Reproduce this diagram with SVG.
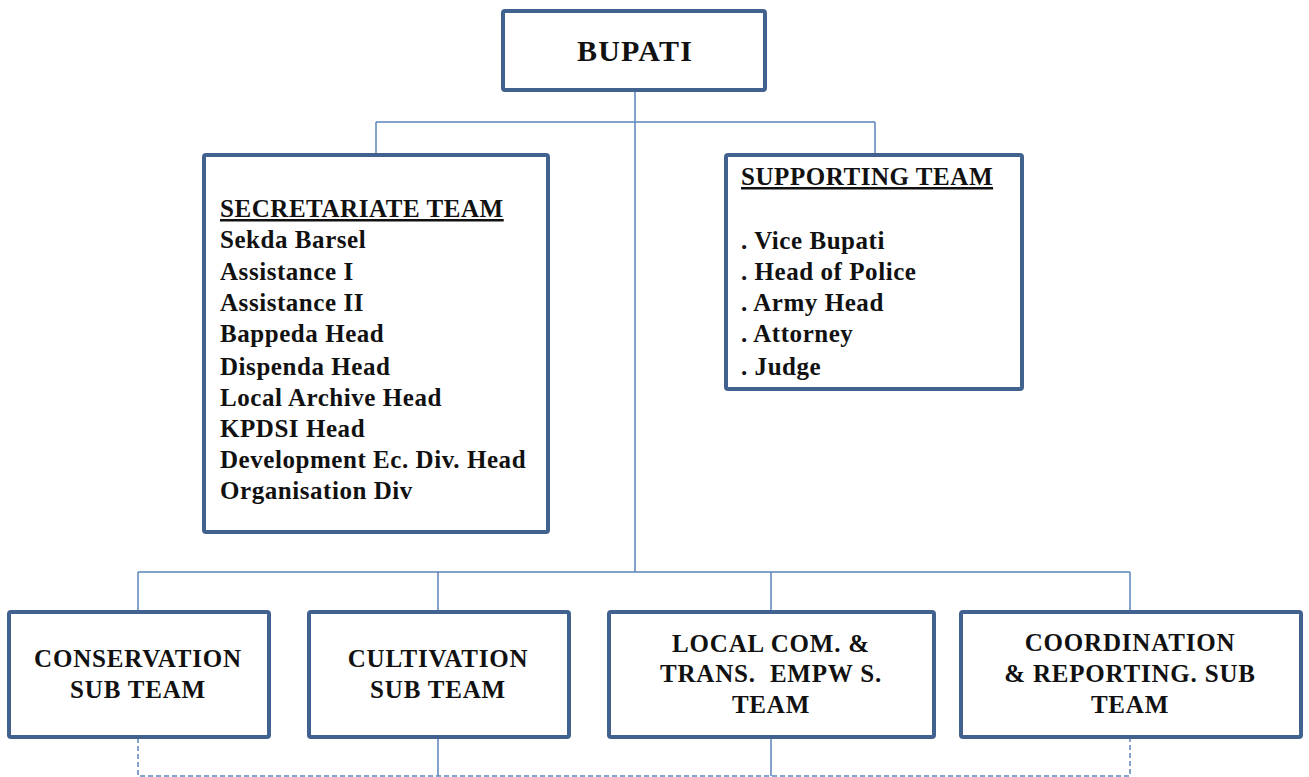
<svg xmlns="http://www.w3.org/2000/svg" width="1309" height="777" viewBox="0 0 1309 777">
<style>
.box{fill:#fff;stroke:#41618f;stroke-width:4}
.ln{fill:none;stroke:#5b85bd;stroke-width:1.5}
.dash{fill:none;stroke:#5b85bd;stroke-width:1.5;stroke-dasharray:5 3}
text{font-family:"Liberation Serif","Times New Roman",serif;font-weight:bold;fill:#111}
.t{font-size:25px;letter-spacing:0.55px}
.b{font-size:25px;letter-spacing:0.8px;text-anchor:middle}
.u{text-decoration:underline}
</style>
<rect width="1309" height="777" fill="#fff"/>
<g id="connectors">
<path class="ln" d="M635 91V572M376 122H875M376 122V153M875 122V153M138 572H1130M138 572V611M438 572V611M771 572V611M1130 572V611"/>
<path class="ln" d="M438 738V776M771 738V776"/>
<path class="dash" d="M138 738V776H1130V738"/>
</g>
<g id="bupati">
<rect class="box" x="503" y="11" width="262" height="79" rx="2"/>
<text x="635" y="61" style="font-size:30px;letter-spacing:1.2px;text-anchor:middle">BUPATI</text>
</g>
<g id="secretariate">
<rect class="box" x="204" y="155" width="344" height="377" rx="2"/>
<text class="t u" x="220" y="217">SECRETARIATE TEAM</text>
<text class="t" x="220" y="248">Sekda Barsel</text>
<text class="t" x="220" y="280">Assistance I</text>
<text class="t" x="220" y="311">Assistance II</text>
<text class="t" x="220" y="342">Bappeda Head</text>
<text class="t" x="220" y="375">Dispenda Head</text>
<text class="t" x="220" y="406">Local Archive Head</text>
<text class="t" x="220" y="437">KPDSI Head</text>
<text class="t" x="220" y="468">Development Ec. Div. Head</text>
<text class="t" x="220" y="499">Organisation  Div</text>
</g>
<g id="supporting">
<rect class="box" x="726" y="155" width="296" height="234" rx="2"/>
<text class="t u" x="741" y="185">SUPPORTING TEAM</text>
<text class="t" x="741" y="249">. Vice Bupati</text>
<text class="t" x="741" y="280">. Head of Police</text>
<text class="t" x="741" y="311">. Army Head</text>
<text class="t" x="741" y="342">. Attorney</text>
<text class="t" x="741" y="375">. Judge</text>
</g>
<g id="conservation">
<rect class="box" x="9" y="612" width="260" height="125" rx="2"/>
<text class="b" x="138" y="667">CONSERVATION</text>
<text class="b" x="138" y="698">SUB TEAM</text>
</g>
<g id="cultivation">
<rect class="box" x="309" y="612" width="260" height="125" rx="2"/>
<text class="b" x="438" y="667">CULTIVATION</text>
<text class="b" x="438" y="698">SUB TEAM</text>
</g>
<g id="localcom">
<rect class="box" x="609" y="612" width="325" height="125" rx="2"/>
<text class="b" x="771" y="652">LOCAL COM. &amp;</text>
<text class="b" x="771" y="682" xml:space="preserve">TRANS.  EMPW S.</text>
<text class="b" x="771" y="713">TEAM</text>
</g>
<g id="coordination">
<rect class="box" x="961" y="612" width="340" height="125" rx="2"/>
<text class="b" x="1130" y="651">COORDINATION</text>
<text class="b" x="1130" y="682">&amp; REPORTING. SUB</text>
<text class="b" x="1130" y="713">TEAM</text>
</g>
</svg>
